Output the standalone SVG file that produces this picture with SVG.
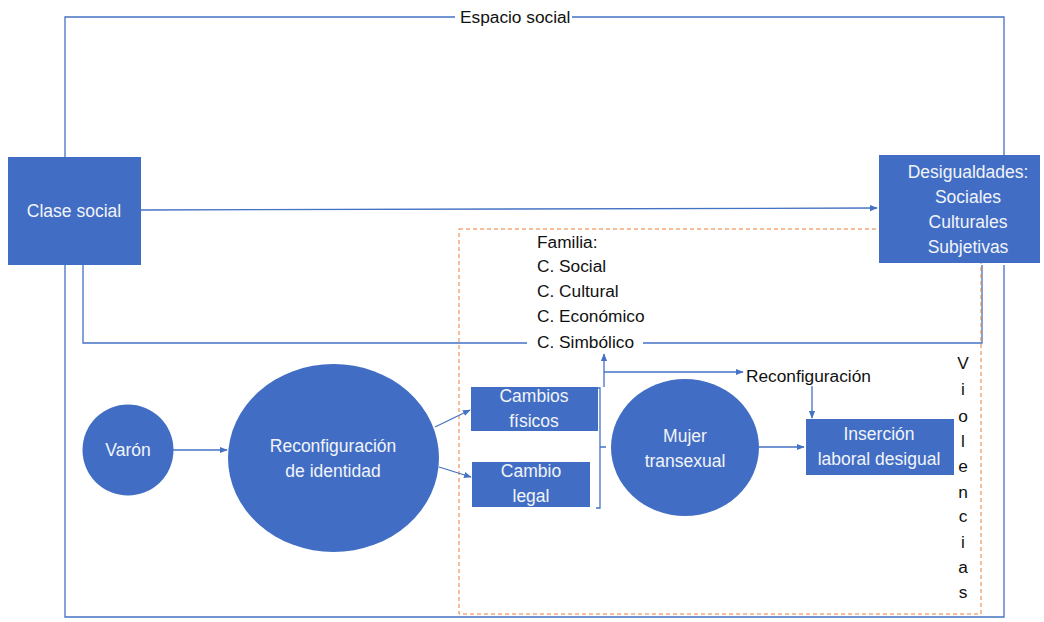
<svg xmlns="http://www.w3.org/2000/svg" width="1044" height="622" viewBox="0 0 1044 622">
<style>
.ln{fill:none;stroke:#4472C4;stroke-width:1.3}
.nd{fill:#416EC4}
.wt{font-family:"Liberation Sans",Arial,sans-serif;font-size:17.5px;fill:#F2F4FA;text-anchor:middle;dominant-baseline:central}
.bt{font-family:"Liberation Sans",Arial,sans-serif;font-size:17.3px;fill:#111;dominant-baseline:central}
</style>
<defs>
<marker id="ah" viewBox="0 0 10 10" refX="9" refY="5" markerWidth="6" markerHeight="6" orient="auto"><path d="M0,1 L10,5 L0,9 z" fill="#4472C4"/></marker>
</defs>
<rect width="1044" height="622" fill="#fff"/>
<g id="connectors">
<path class="ln" d="M65,157 V17 H455 M572,17 H1004 V155"/>
<path class="ln" d="M65,265 V617 H1004 V265"/>
<path class="ln" d="M83,265 V343 H527 M643,343 H982 V265"/>
<rect x="459" y="229" width="522" height="385" fill="none" stroke="#ED7D31" stroke-width="1" stroke-dasharray="4,3"/>
<path class="ln" d="M141,210 L877,208" marker-end="url(#ah)"/>
<path class="ln" d="M173,450 L227,450" marker-end="url(#ah)"/>
<path class="ln" d="M435,427 L470,410" marker-end="url(#ah)"/>
<path class="ln" d="M439,467 L471,477" marker-end="url(#ah)"/>
<path class="ln" d="M596,388 H600 V508 H596 M600,447 H606" stroke-width="1"/>
<path class="ln" d="M604,387 V354" marker-end="url(#ah)"/>
<path class="ln" d="M604,372 H743" marker-end="url(#ah)"/>
<path class="ln" d="M812,386 V418" marker-end="url(#ah)"/>
<path class="ln" d="M759,447 L804,447" marker-end="url(#ah)"/>
</g>
<g id="espacio"><text class="bt" x="460" y="17">Espacio social</text></g>
<g id="clase"><rect class="nd" x="8" y="157" width="133" height="108"/><text class="wt" x="74" y="211">Clase social</text></g>
<g id="desigualdades"><rect class="nd" x="879" y="155" width="161" height="108"/>
<text class="wt" x="968" y="172">Desigualdades:</text><text class="wt" x="968" y="197">Sociales</text><text class="wt" x="968" y="222">Culturales</text><text class="wt" x="968" y="247">Subjetivas</text></g>
<g id="familia"><text class="bt" x="537" y="242">Familia:</text><text class="bt" x="537" y="266">C. Social</text><text class="bt" x="537" y="291">C. Cultural</text><text class="bt" x="537" y="316">C. Económico</text><text class="bt" x="537" y="342">C. Simbólico</text></g>
<g id="varon"><circle class="nd" cx="128" cy="450" r="45.5"/><text class="wt" x="128" y="450">Varón</text></g>
<g id="reconfig-identidad"><ellipse class="nd" cx="333.5" cy="458" rx="105.5" ry="94"/><text class="wt" x="333" y="446">Reconfiguración</text><text class="wt" x="333" y="471">de identidad</text></g>
<g id="cambios-fisicos"><rect class="nd" x="471" y="387" width="127" height="44"/><text class="wt" x="534" y="396">Cambios</text><text class="wt" x="534" y="421">físicos</text></g>
<g id="cambio-legal"><rect class="nd" x="472" y="462" width="118" height="45"/><text class="wt" x="531" y="471">Cambio</text><text class="wt" x="531" y="496">legal</text></g>
<g id="mujer"><ellipse class="nd" cx="685" cy="447.5" rx="74" ry="68.5"/><text class="wt" x="685" y="436">Mujer</text><text class="wt" x="685" y="461">transexual</text></g>
<g id="reconfiguracion"><text class="bt" x="746" y="376">Reconfiguración</text></g>
<g id="insercion"><rect class="nd" x="806" y="419" width="148" height="56"/><text class="wt" x="879" y="434">Inserción</text><text class="wt" x="879" y="459">laboral desigual</text></g>
<g id="violencias" font-family="Liberation Sans,Arial,sans-serif" font-size="17.3" fill="#111" text-anchor="middle" dominant-baseline="central">
<text x="963" y="363">V</text><text x="963" y="389">i</text><text x="963" y="416">o</text><text x="963" y="441">l</text><text x="963" y="466">e</text><text x="963" y="492">n</text><text x="963" y="516">c</text><text x="963" y="542">i</text><text x="963" y="567">a</text><text x="963" y="592">s</text>
</g>
</svg>
